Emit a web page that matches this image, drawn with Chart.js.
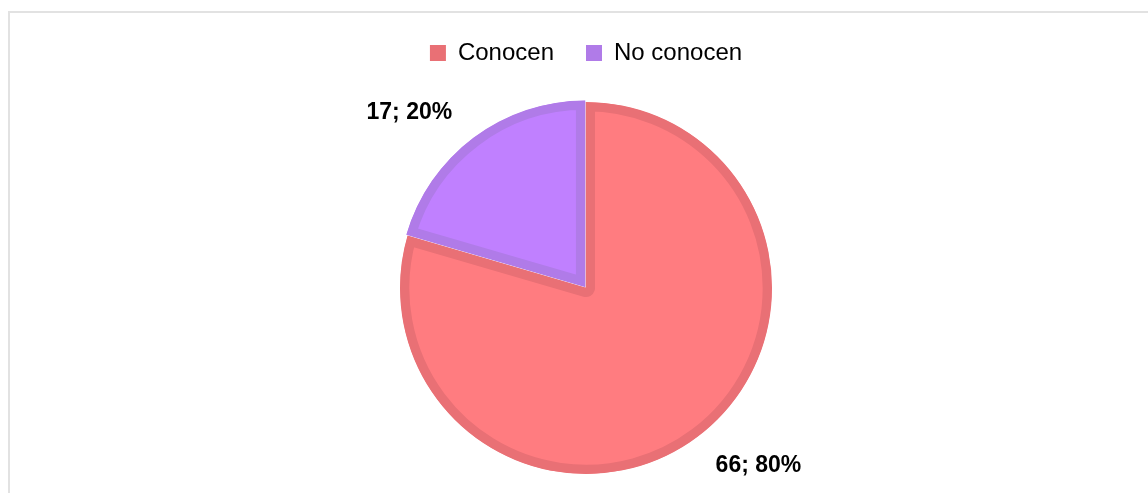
<!DOCTYPE html>
<html>
<head>
<meta charset="utf-8">
<script src="https://cdn.jsdelivr.net/npm/chart.js@4/dist/chart.umd.min.js"></script>
<style>
    body { margin: 0; background: #fff; overflow: hidden; width: 1148px; height: 493px; position: relative; }
    #frame { position: absolute; left: 8px; top: 11px; width: 1200px; height: 600px; border: 2px solid #e2e2e2; }
    #wrap { position: absolute; left: 0; top: 9px; width: 1172px; height: 492px; }
</style>
</head>
<body>
<div id="frame"></div>
<div id="wrap"><canvas id="myChart" width="1172" height="492"></canvas></div>
<script>
const categories = ['Conocen', 'No conocen'];
const counts = [66, 17];
const fillColors = ['#FF7C80', '#C080FF'];
const edgeColors = ['#E97075', '#B07BE8'];

// draws "value; pct%" next to each slice, outside the rim
const sliceLabels = {
    id: 'sliceLabels',
    afterDatasetsDraw(chart) {
        const ctx = chart.ctx;
        const meta = chart.getDatasetMeta(0);
        const total = counts.reduce((a, b) => a + b, 0);
        ctx.save();
        ctx.font = 'bold 23px "Liberation Sans", Arial, sans-serif';
        ctx.fillStyle = '#000';
        ctx.textAlign = 'center';
        ctx.textBaseline = 'middle';
        meta.data.forEach((arc, i) => {
            const p = arc.getProps(['x', 'y', 'startAngle', 'endAngle', 'outerRadius'], true);
            const mid = (p.startAngle + p.endAngle) / 2;
            const off = arc.options.offset || 0;
            const cx = p.x + Math.cos(mid) * off;
            const cy = p.y + Math.sin(mid) * off;
            const ax = cx + Math.cos(mid) * p.outerRadius;
            const ay = cy + Math.sin(mid) * p.outerRadius;
            const text = counts[i] + '; ' + Math.round(counts[i] / total * 100) + '%';
            const w = ctx.measureText(text).width;
            const tx = ax + Math.sign(Math.cos(mid)) * (w / 2 + 18);
            const ty = ay + Math.sign(Math.sin(mid)) * 25 + 4;
            ctx.fillText(text, tx, ty);
        });
        ctx.restore();
    }
};

const ctx = document.getElementById('myChart').getContext('2d');
new Chart(ctx, {
    type: 'pie',
    data: {
        labels: categories,
        datasets: [{
            data: counts,
            backgroundColor: fillColors,
            borderColor: edgeColors,
            borderWidth: 9,
            borderAlign: 'inner',
            offset: [0, 7],
            hoverOffset: 0,
            radius: 186
        }]
    },
    options: {
        responsive: false,
        animation: false,
        events: [],
        layout: { padding: 0 },
        plugins: {
            legend: {
                position: 'top',
                labels: {
                    boxWidth: 16,
                    boxHeight: 16,
                    padding: 32,
                    color: '#000',
                    font: { family: '"Liberation Sans", Arial, sans-serif', size: 24 },
                    generateLabels: function(chart) {
                        const items = Chart.overrides.pie.plugins.legend.labels.generateLabels(chart);
                        items.forEach((item, i) => {
                            item.fillStyle = edgeColors[i];
                            item.lineWidth = 0;
                        });
                        return items;
                    }
                }
            },
            tooltip: { enabled: false }
        }
    },
    plugins: [sliceLabels]
});
</script>
</body>
</html>
